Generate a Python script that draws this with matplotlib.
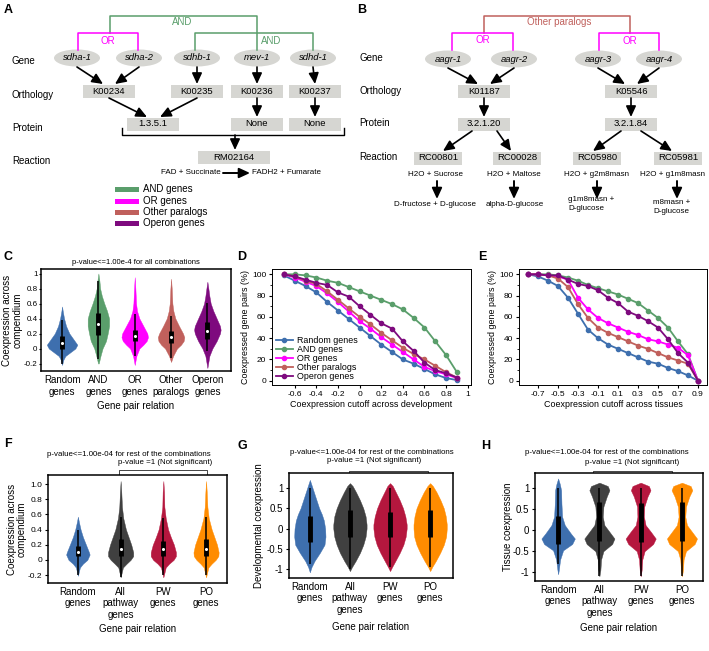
import numpy as np
import matplotlib
matplotlib.use('Agg')
import matplotlib.pyplot as plt
from matplotlib.patches import Ellipse, Rectangle
from matplotlib.ticker import MultipleLocator

plt.rcParams['font.family'] = ['Liberation Sans', 'DejaVu Sans']
plt.rcParams['axes.linewidth'] = 1.0
plt.rcParams['xtick.major.size'] = 3
plt.rcParams['ytick.major.size'] = 3

# ---------------- colours ----------------
c_rand = '#3e6fae'
c_and = '#5a9e6b'
c_or = '#ff00ff'
c_oth = '#c0605c'
c_op = '#7e0a7e'
c_all = '#404040'
c_pw = '#b5173e'
c_po = '#ff8c00'
c_node = '#d6d6d2'

# ---------------- panel A / B diagram content ----------------
a_genes = ['sdha-1', 'sdha-2', 'sdhb-1', 'mev-1', 'sdhd-1']
a_orth = ['K00234', 'K00235', 'K00236', 'K00237']
a_prot = ['1.3.5.1', 'None', 'None']
a_reac = 'RM02164'
b_genes = ['aagr-1', 'aagr-2', 'aagr-3', 'aagr-4']
b_orth = ['K01187', 'K05546']
b_prot = ['3.2.1.20', '3.2.1.84']
b_reac = ['RC00801', 'RC00028', 'RC05980', 'RC05981']
b_subs = ['H2O + Sucrose', 'H2O + Maltose', 'H2O + g2m8masn', 'H2O + g1m8masn']
b_prod = ['D-fructose + D-glucose', 'alpha-D-glucose', 'g1m8masn +\nD-glucose', 'm8masn +\nD-glucose']
row_names = ['Gene', 'Orthology', 'Protein', 'Reaction']
legend_names = ['AND genes', 'OR genes', 'Other paralogs', 'Operon genes']

# ---------------- panel C violins (profile y, relative half width) ----------------
c_labels = ['Random\ngenes', 'AND\ngenes', 'OR\ngenes', 'Other\nparalogs', 'Operon\ngenes']
rand_c_y = [-0.22, -0.15, -0.1, -0.05, 0.0, 0.05, 0.1, 0.2, 0.3, 0.4, 0.5, 0.56]
rand_c_w = [0, 4, 10, 25, 40, 46, 38, 22, 12, 6, 2, 0]
and_c_y = [-0.2, -0.1, 0.0, 0.1, 0.2, 0.3, 0.4, 0.5, 0.6, 0.7, 0.8, 0.9, 1.0]
and_c_w = [1, 6, 12, 22, 27, 31, 31, 25, 17, 10, 5, 3, 0]
or_c_y = [-0.22, -0.1, 0.0, 0.05, 0.1, 0.15, 0.2, 0.3, 0.4, 0.5, 0.6, 0.8, 0.95]
or_c_w = [0, 5, 14, 26, 36, 40, 38, 26, 14, 7, 4, 2, 0]
oth_c_y = [-0.18, -0.1, 0.0, 0.05, 0.1, 0.15, 0.2, 0.3, 0.4, 0.5, 0.6, 0.8, 0.93]
oth_c_w = [0, 6, 18, 30, 38, 40, 36, 24, 13, 7, 4, 2, 0]
op_c_y = [-0.26, -0.1, 0.0, 0.1, 0.2, 0.25, 0.3, 0.4, 0.5, 0.6, 0.7, 0.8, 0.89]
op_c_w = [0, 6, 15, 28, 38, 40, 38, 28, 18, 10, 6, 3, 0]
c_q1 = [0.0, 0.18, 0.10, 0.08, 0.13]
c_q3 = [0.17, 0.47, 0.25, 0.23, 0.35]
c_med = [0.08, 0.33, 0.17, 0.16, 0.24]
c_lo = [-0.20, -0.14, -0.10, -0.12, -0.03]
c_hi = [0.38, 0.90, 0.46, 0.43, 0.61]

# ---------------- panel D / E curves ----------------
d_x = [-0.7, -0.6, -0.5, -0.4, -0.3, -0.2, -0.1, 0.0, 0.1, 0.2, 0.3, 0.4, 0.5, 0.6, 0.7, 0.8, 0.9]
d_rand = [99, 94, 89, 83, 74, 66, 58, 50, 42, 34, 27, 20, 16, 11, 6, 2.5, 0.6]
d_and = [100, 100, 99, 97, 94, 92, 88, 84, 80, 76, 72, 67, 59, 50, 37, 24, 8]
d_or = [100, 97, 93, 89, 82, 74, 65, 56, 49, 41, 34, 27, 20, 13, 9, 6, 2.5]
d_oth = [100, 98, 94, 91, 84, 76, 68, 60, 53, 45, 38, 31, 25, 20, 14, 8, 3]
d_op = [100, 98, 95, 92, 90, 83, 79, 70, 62, 54, 49, 37, 28, 17, 10, 7, 3]
e_x = [-0.8, -0.7, -0.6, -0.5, -0.4, -0.3, -0.2, -0.1, 0.0, 0.1, 0.2, 0.3, 0.4, 0.5, 0.6, 0.7, 0.8, 0.9]
e_rand = [100, 98, 94, 89, 78, 63, 48, 40, 34, 30, 26, 22, 18, 16, 12, 9, 5, 0]
e_and = [100, 100, 100, 99, 97, 94, 90, 87, 84, 81, 77, 73, 66, 59, 50, 37, 25, 0]
e_or = [100, 100, 99, 98, 95, 78, 67, 59, 54, 50, 46, 43, 39, 37, 34, 31, 24, 0]
e_oth = [100, 100, 99, 96, 88, 72, 59, 50, 45, 41, 37, 33, 30, 26, 22, 19, 16, 0]
e_op = [100, 100, 99, 99, 95, 91, 89, 85, 78, 73, 65, 61, 56, 50, 39, 26, 17, 0]
curve_names = ['Random genes', 'AND genes', 'OR genes', 'Other paralogs', 'Operon genes']

# ---------------- panel F / G / H violins ----------------
f_labels = ['Random\ngenes', 'All\npathway\ngenes', 'PW\ngenes', 'PO\ngenes']
rand_f_y = [-0.21, -0.1, -0.05, 0.0, 0.07, 0.1, 0.2, 0.3, 0.4, 0.5, 0.57]
rand_f_w = [0, 6, 15, 28, 35, 33, 24, 15, 8, 3, 0]
all_f_y = [-0.23, -0.1, -0.05, 0.0, 0.05, 0.1, 0.2, 0.3, 0.4, 0.55, 0.7, 0.9, 1.04]
all_f_w = [0, 7, 18, 30, 38, 38, 32, 24, 16, 8, 4, 2, 0]
pw_f_y = [-0.23, -0.1, -0.05, 0.0, 0.05, 0.1, 0.2, 0.3, 0.4, 0.55, 0.7, 0.9, 1.04]
pw_f_w = [0, 7, 17, 30, 37, 37, 31, 22, 14, 7, 3, 2, 0]
po_f_y = [-0.23, -0.1, -0.05, 0.0, 0.05, 0.1, 0.2, 0.3, 0.4, 0.55, 0.7, 0.9, 1.04]
po_f_w = [0, 7, 17, 29, 37, 38, 33, 25, 17, 8, 4, 2, 0]
f_q1 = [0.05, 0.05, 0.05, 0.05]
f_q3 = [0.18, 0.27, 0.25, 0.28]
f_med = [0.11, 0.15, 0.14, 0.15]
f_lo = [-0.20, -0.22, -0.20, -0.20]
f_hi = [0.40, 0.57, 0.55, 0.57]

rand_g_y = [-1.08, -0.95, -0.8, -0.6, -0.4, -0.2, 0.0, 0.2, 0.35, 0.5, 0.7, 0.9, 1.0, 1.1, 1.2]
rand_g_w = [0, 5, 14, 30, 44, 47, 46, 42, 36, 28, 20, 12, 8, 4, 0]
all_g_y = [-1.05, -0.95, -0.8, -0.6, -0.4, -0.2, 0.0, 0.1, 0.3, 0.5, 0.7, 0.9, 1.05, 1.12]
all_g_w = [0, 6, 17, 30, 40, 47, 50, 50, 47, 40, 30, 18, 8, 0]
pw_g_y = [-1.05, -0.95, -0.8, -0.6, -0.4, -0.2, 0.0, 0.1, 0.3, 0.5, 0.7, 0.9, 1.05, 1.12]
pw_g_w = [0, 6, 16, 29, 40, 47, 50, 50, 46, 39, 29, 17, 8, 0]
po_g_y = [-1.05, -0.95, -0.8, -0.6, -0.4, -0.2, 0.0, 0.1, 0.3, 0.5, 0.7, 0.9, 1.05, 1.12]
po_g_w = [0, 6, 17, 30, 41, 48, 50, 50, 47, 41, 31, 19, 8, 0]
g_q1 = [-0.33, -0.22, -0.22, -0.22]
g_q3 = [0.32, 0.45, 0.42, 0.45]
g_lo = [-0.88, -1.0, -0.95, -0.95]
g_hi = [1.0, 1.0, 1.0, 1.0]

rand_h_y = [-1.05, -0.95, -0.7, -0.48, -0.33, -0.2, -0.08, 0.12, 0.32, 0.63, 0.95, 1.1, 1.23]
rand_h_w = [0, 2, 6, 15, 42, 50, 38, 20, 12, 10, 9, 5, 0]
all_h_y = [-1.1, -0.95, -0.7, -0.5, -0.33, -0.2, -0.04, 0.12, 0.32, 0.56, 0.8, 0.95, 1.05, 1.13]
all_h_w = [0, 3, 5, 12, 38, 45, 30, 15, 10, 12, 22, 30, 25, 0]
pw_h_y = [-1.1, -0.95, -0.7, -0.5, -0.33, -0.2, -0.04, 0.12, 0.32, 0.56, 0.8, 0.95, 1.05, 1.13]
pw_h_w = [0, 3, 5, 12, 38, 46, 31, 15, 10, 11, 21, 30, 25, 0]
po_h_y = [-1.1, -0.95, -0.7, -0.5, -0.33, -0.2, -0.04, 0.12, 0.32, 0.56, 0.8, 0.95, 1.05, 1.13]
po_h_w = [0, 3, 5, 12, 38, 45, 30, 15, 10, 12, 22, 31, 26, 0]
h_q1 = [-0.32, -0.25, -0.28, -0.25]
h_q3 = [0.33, 0.67, 0.65, 0.68]
h_lo = [-0.8, -1.1, -1.1, -1.1]
h_hi = [1.0, 1.0, 1.0, 1.0]

W, H = 709, 651
fig = plt.figure(figsize=(W / 100, H / 100), dpi=100)


def px_axes(l, t, r, b):
    return fig.add_axes([l / W, 1 - b / H, (r - l) / W, (b - t) / H])


# overlay in pixel coordinates for the diagrams and annotations
ov = fig.add_axes([0, 0, 1, 1])
ov.set_xlim(0, W)
ov.set_ylim(H, 0)
ov.axis('off')


def node_box(x, y, txt, w=52, h=13):
    ov.add_patch(Rectangle((x - w / 2, y - h / 2), w, h, fc=c_node, ec='none'))
    ov.text(x, y, txt, ha='center', va='center', fontsize=6.8)


def node_gene(x, y, txt):
    ov.add_patch(Ellipse((x, y), 46, 17, fc=c_node, ec='none'))
    ov.text(x, y, txt, ha='center', va='center', fontsize=6.8, style='italic')


def arrow(x1, y1, x2, y2, lw=1.2):
    ov.annotate('', xy=(x2, y2), xytext=(x1, y1),
                arrowprops=dict(arrowstyle='-|>,head_length=0.65,head_width=0.3',
                                color='k', lw=lw, shrinkA=0, shrinkB=0))


def bracket(x1, x2, ytop, ybot, color, lw=1.1):
    ov.plot([x1, x1, x2, x2], [ybot, ytop, ytop, ybot], color=color, lw=lw)


# ---- panel A ----
ov.text(4, 10, 'A', fontsize=9, fontweight='bold', va='center')
for name, y in zip(row_names, [61, 95, 128, 161]):
    ov.text(12, y, name, fontsize=7, va='center')
ov.plot([110, 110, 257, 257], [33, 16, 16, 50], color=c_and, lw=1.1)
ov.text(182, 22, 'AND', color=c_and, fontsize=7, ha='center', va='center')
bracket(78, 138, 33, 50, c_or)
ov.text(108, 41, 'OR', color=c_or, fontsize=7, ha='center', va='center')
bracket(195, 313, 33, 50, c_and)
ov.text(271, 41, 'AND', color=c_and, fontsize=7, ha='center', va='center')
gx = [77, 139, 197, 257, 313]
for x, g in zip(gx, a_genes):
    node_gene(x, 58, g)
ox = [109, 197, 257, 315]
for x, k in zip(ox, a_orth):
    node_box(x, 91, k)
px_ = [153, 257, 315]
for x, p in zip(px_, a_prot):
    node_box(x, 124, p)
for (x1, x2) in [(77, 103), (139, 115), (197, 197), (257, 257), (313, 315)]:
    arrow(x1, 67, x2, 84)
for (x1, x2) in [(109, 147), (197, 160), (257, 257), (315, 315)]:
    arrow(x1, 98, x2, 117)
ov.plot([122, 122, 344, 344], [128, 135, 135, 128], color='k', lw=1.0)
arrow(235, 135, 235, 150)
node_box(234, 157, a_reac, w=72)
ov.text(221, 173, 'FAD + Succinate', fontsize=5.8, ha='right', va='center')
arrow(223, 173, 250, 173, lw=1.4)
ov.text(252, 173, 'FADH2 + Fumarate', fontsize=5.8, ha='left', va='center')
for name, c, y in zip(legend_names, [c_and, c_or, c_oth, c_op], [189, 201, 212, 223]):
    ov.add_patch(Rectangle((115, y - 2.5), 24, 5, fc=c, ec='none'))
    ov.text(143, y, name, fontsize=7, va='center')

# ---- panel B ----
ov.text(357, 10, 'B', fontsize=9, fontweight='bold', va='center')
for name, y in zip(row_names, [58, 91, 123, 157]):
    ov.text(359, y, name, fontsize=7, va='center')
bracket(484, 630, 16, 33, c_oth)
ov.text(559, 22, 'Other paralogs', color=c_oth, fontsize=7, ha='center', va='center')
bracket(452, 513, 33, 50, c_or)
bracket(599, 659, 33, 50, c_or)
ov.text(483, 40, 'OR', color=c_or, fontsize=7, ha='center', va='center')
ov.text(630, 41, 'OR', color=c_or, fontsize=7, ha='center', va='center')
bgx = [448, 514, 598, 659]
for x, g in zip(bgx, b_genes):
    node_gene(x, 59, g)
box_ = [484, 631]
for x, k in zip(box_, b_orth):
    node_box(x, 91, k)
for x, p in zip(box_, b_prot):
    node_box(x, 124, p)
for (x1, x2) in [(448, 478), (514, 490), (598, 625), (659, 637)]:
    arrow(x1, 68, x2, 84)
for x in box_:
    arrow(x, 98, x, 117)
brx = [438, 517, 597, 678]
for x, r in zip(brx, b_reac):
    node_box(x, 158, r, w=48)
for (x1, x2) in [(472, 443), (497, 511), (621, 593), (641, 672)]:
    arrow(x1, 131, x2, 151)
sx = [436, 514, 596, 673]
for x, s in zip(sx, b_subs):
    ov.text(x, 175, s, fontsize=5.8, ha='center', va='center')
for x in [437, 514, 597, 677]:
    arrow(x, 181, x, 199, lw=1.4)
ov.text(435, 204, b_prod[0], fontsize=5.8, ha='center', va='center')
ov.text(515, 204, b_prod[1], fontsize=5.8, ha='center', va='center')
ov.text(568, 204, b_prod[2], fontsize=5.8, ha='left', va='center', linespacing=1.3)
ov.text(653, 207, b_prod[3], fontsize=5.8, ha='left', va='center', linespacing=1.3)


# ---------------- violin helper ----------------
def violins(ax, ys_list, ws_list, widths, colors):
    stats = []
    for ys, ws in zip(ys_list, ws_list):
        stats.append(dict(coords=np.array(ys), vals=np.array(ws, dtype=float),
                          mean=0.0, median=0.0, min=ys[0], max=ys[-1], quantiles=[]))
    parts = ax.violin(stats, positions=list(range(len(stats))), widths=widths,
                      showextrema=False)
    for body, c in zip(parts['bodies'], colors):
        body.set_facecolor(c)
        body.set_edgecolor(c)
        body.set_linewidth(0.3)
        body.set_alpha(1)


def boxes(ax, q1, q3, lo, hi, med=None, lw_box=4):
    pos = list(range(len(q1)))
    ax.vlines(pos, lo, hi, color='k', lw=1.1, zorder=3)
    ax.vlines(pos, q1, q3, color='k', lw=lw_box, zorder=3)
    if med is not None:
        ax.scatter(pos, med, s=1.5, color='white', zorder=4)


# ---- panel C ----
ov.text(4, 257, 'C', fontsize=9, fontweight='bold', va='center')
ax = px_axes(41, 269, 231, 371)
violins(ax, [rand_c_y, and_c_y, or_c_y, oth_c_y, op_c_y],
        [rand_c_w, and_c_w, or_c_w, oth_c_w, op_c_w],
        [0.84, 0.59, 0.73, 0.73, 0.73], [c_rand, c_and, c_or, c_oth, c_op])
boxes(ax, c_q1, c_q3, c_lo, c_hi, c_med, lw_box=3.5)
ax.set_xlim(-0.58, 4.65)
ax.set_ylim(-0.3, 1.06)
ax.set_yticks([-0.2, 0, 0.2, 0.4, 0.6, 0.8, 1])
ax.set_yticklabels(['-0.2', '0', '0.2', '0.4', '0.6', '0.8', '1'])
ax.set_xticks(range(5))
ax.set_xticklabels(c_labels, fontsize=7, linespacing=1.2)
ax.tick_params(axis='y', labelsize=5.8, length=1.5, pad=1)
ax.tick_params(axis='x', length=0, pad=3)
ax.set_ylabel('Coexpression across\ncompendium', fontsize=7, labelpad=1, linespacing=1.0)
ax.set_xlabel('Gene pair relation', fontsize=7, labelpad=3)
ax.set_title('p-value<=1.00e-4 for all combinations', fontsize=5.5, pad=3.5)
for s in ax.spines.values():
    s.set_linewidth(1.1)


# ---- panel D / E ----
def curves(ax, x, series):
    for ys, c, n in zip(series, [c_rand, c_and, c_or, c_oth, c_op], curve_names):
        ax.plot(x, ys, '-o', color=c, lw=1.3, ms=3.0, label=n)
    ax.set_ylim(-4, 105)
    ax.set_yticks([0, 20, 40, 60, 80, 100])
    ax.yaxis.set_minor_locator(MultipleLocator(10))
    ax.tick_params(labelsize=6, length=2.5, pad=1.5)
    ax.tick_params(which='minor', length=1.5)
    ax.set_ylabel('Coexpressed gene pairs (%)', fontsize=6.4, labelpad=1.5)
    for s in ax.spines.values():
        s.set_linewidth(0.7)


ov.text(237, 257, 'D', fontsize=9, fontweight='bold', va='center')
ax = px_axes(272, 269, 471, 385)
curves(ax, d_x, [d_rand, d_and, d_or, d_oth, d_op])
ax.set_xlim(-0.81, 1.03)
ax.set_xticks([-0.6, -0.4, -0.2, 0, 0.2, 0.4, 0.6, 0.8, 1])
ax.set_xticklabels(['-0.6', '-0.4', '-0.2', '0', '0.2', '0.4', '0.6', '0.8', '1'])
ax.set_xlabel('Coexpression cutoff across development', fontsize=6.4, labelpad=1.5)
ax.legend(loc='lower left', frameon=False, fontsize=6.4, handlelength=2.0,
          handletextpad=0.4, labelspacing=0.0, borderaxespad=0.2, borderpad=0.2)

ov.text(478, 257, 'E', fontsize=9, fontweight='bold', va='center')
ax = px_axes(519, 269, 707, 385)
curves(ax, e_x, [e_rand, e_and, e_or, e_oth, e_op])
ax.set_xlim(-0.89, 0.99)
ax.set_xticks([-0.7, -0.5, -0.3, -0.1, 0.1, 0.3, 0.5, 0.7, 0.9])
ax.set_xticklabels(['-0.7', '-0.5', '-0.3', '-0.1', '0.1', '0.3', '0.5', '0.7', '0.9'])
ax.set_xlabel('Coexpression cutoff across tissues', fontsize=6.4, labelpad=1.5)


# ---- panels F / G / H ----
def pathway_panel(letter, lpos, rect, ys_list, ws_list, widths, q1, q3, lo, hi, med,
                  xlim, ylim, yticks, yticklabels, ylabel, ytsize, ylpad, xlpad,
                  brk, title_x, title_y):
    ov.text(lpos[0], lpos[1], letter, fontsize=9, fontweight='bold', va='center')
    ax = px_axes(*rect)
    violins(ax, ys_list, ws_list, widths, [c_rand, c_all, c_pw, c_po])
    boxes(ax, q1, q3, lo, hi, med, lw_box=3.5)
    ax.set_xlim(*xlim)
    ax.set_ylim(*ylim)
    ax.set_yticks(yticks)
    ax.set_yticklabels(yticklabels)
    ax.set_xticks(range(4))
    ax.set_xticklabels(f_labels, fontsize=7, linespacing=1.15, va='top')
    ax.tick_params(axis='y', labelsize=ytsize, length=2.5, pad=1.5)
    ax.tick_params(axis='x', length=0, pad=3)
    ax.set_ylabel(ylabel, fontsize=7, labelpad=ylpad, linespacing=1.0)
    ax.set_xlabel('Gene pair relation', fontsize=7, labelpad=xlpad)
    for s in ax.spines.values():
        s.set_linewidth(1.1)
    ov.text(title_x[0], title_y[0], 'p-value<=1.00e-04 for rest of the combinations',
            fontsize=5.7, ha='center', va='center')
    ov.text(title_x[1], title_y[1], 'p-value =1 (Not significant)',
            fontsize=5.7, ha='center', va='center')
    ov.plot([brk[0], brk[0], brk[1], brk[1]], [brk[2] + 4, brk[2], brk[2], brk[2] + 4],
            color='#444444', lw=0.7)


pathway_panel('F', (4, 444), (48, 475, 227, 583),
              [rand_f_y, all_f_y, pw_f_y, po_f_y], [rand_f_w, all_f_w, pw_f_w, po_f_w],
              [0.55, 0.59, 0.59, 0.59], f_q1, f_q3, f_lo, f_hi, f_med,
              (-0.70, 3.49), (-0.305, 1.12),
              [-0.2, 0, 0.2, 0.4, 0.6, 0.8, 1.0], ['-0.2', '0', '0.2', '0.4', '0.6', '0.8', '1.0'],
              'Coexpression across\ncompendium', 6, 1, 3,
              (119, 207, 470), (129, 165), (454, 463))
pathway_panel('G', (237, 446), (289, 473, 453, 578),
              [rand_g_y, all_g_y, pw_g_y, po_g_y], [rand_g_w, all_g_w, pw_g_w, po_g_w],
              [0.78, 0.83, 0.83, 0.83], g_q1, g_q3, g_lo, g_hi, None,
              (-0.52, 3.57), (-1.22, 1.37),
              [-1, -0.5, 0, 0.5, 1], ['-1', '-0.5', '0', '0.5', '1'],
              'Developmental coexpression', 7, 2, 5,
              (349, 428, 471), (372, 374), (453, 461))
pathway_panel('H', (481, 446), (535, 473, 703, 581),
              [rand_h_y, all_h_y, pw_h_y, po_h_y], [rand_h_w, all_h_w, pw_h_w, po_h_w],
              [0.81, 0.73, 0.73, 0.73], h_q1, h_q3, h_lo, h_hi, None,
              (-0.56, 3.51), (-1.21, 1.36),
              [-1, -0.5, 0, 0.5, 1], ['-1', '-0.5', '0', '0.5', '1'],
              'Tissue coexpression', 7, 0, 4,
              (593, 672, 471), (607, 632), (453, 462))

fig.savefig('out.png', dpi=100)
